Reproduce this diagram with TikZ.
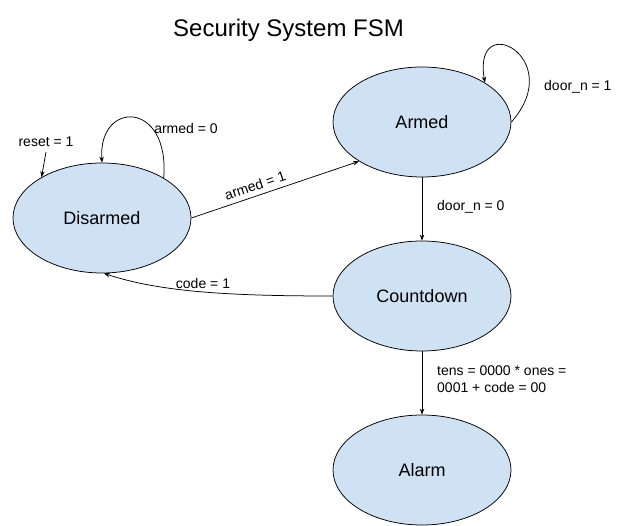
\documentclass[tikz,border=0pt]{standalone}
\usepackage{fontspec}
\setmainfont{Liberation Sans}
\usetikzlibrary{arrows.meta,shapes.geometric}
\definecolor{stfill}{HTML}{CFE2F3}
\begin{document}
\begin{tikzpicture}[x=1pt,y=-1pt,
  state/.style={ellipse, draw, fill=stfill, line width=0.75pt, minimum width=178pt, minimum height=110pt, inner sep=0pt, font=\fontsize{18}{20}\selectfont},
  lbl/.style={font=\fontsize{14}{16.5}\selectfont, inner sep=0pt},
  edge/.style={line width=0.75pt, -{Stealth[length=6pt,width=4.5pt]}}]
\useasboundingbox (0,0) rectangle (629,526);
\node[anchor=base, font=\fontsize{24}{28}\selectfont] (title) at (288.5,37) {Security System FSM};
\node[state] (dis) at (102,218) {Disarmed};
\node[state] (arm) at (422,122) {Armed};
\node[state] (cd) at (422,296) {Countdown};
\node[state] (al) at (422,470) {Alarm};
% reset
\coordinate (rs) at (46,152);
\draw[edge] (rs) -- (dis.146);
\node[lbl] (lreset) at (46,142) {reset = 1};
% armed = 0 loop
\draw[edge] (dis.33) .. controls (170,100) and (98,100) .. (dis.90);
\node[lbl] (larm0) at (186,128) {armed = 0};
% armed = 1
\draw[edge] (dis.0) -- node[lbl, sloped, above=5pt, pos=0.4] (larm1) {armed = 1} (arm.212);
% door_n = 1 loop
\draw[edge] (arm.0) .. controls (568,58) and (472,8) .. (arm.32);
\node[lbl, anchor=west] (ld1) at (544,87) {door\_n = 1};
% armed -> countdown
\draw[edge] (arm.south) -- (cd.north);
\node[lbl, anchor=west] (ld0) at (437,207) {door\_n = 0};
% code = 1
\draw[edge] (cd.west) .. controls (230,296) and (160,292) .. (dis.272);
\node[lbl] (lcode) at (203,283) {code = 1};
% countdown -> alarm
\draw[edge] (cd.south) -- (al.north);
\node[lbl, anchor=north west, align=left] (ltens) at (437,366) {tens = 0000 * ones =\\0001 + code = 00};
\end{tikzpicture}
\end{document}
